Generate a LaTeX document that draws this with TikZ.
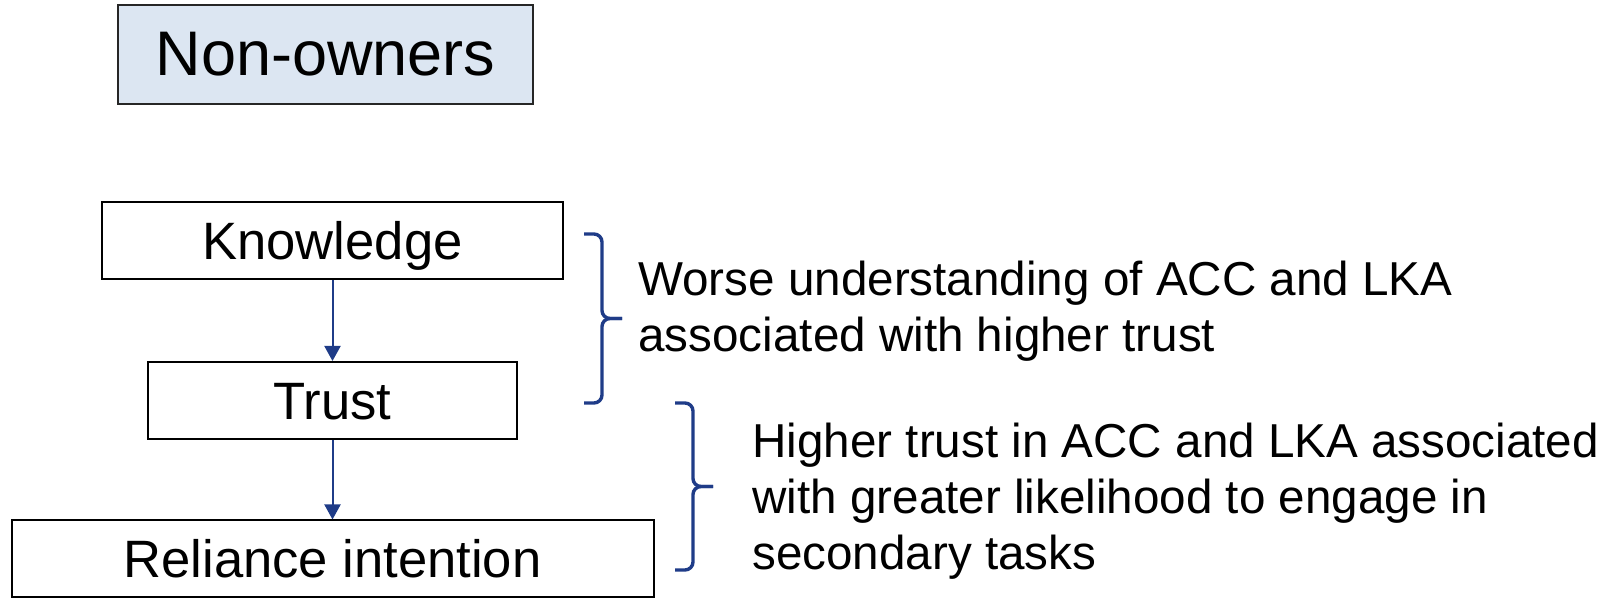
\documentclass[tikz,border=0pt]{standalone}
\usepackage{fontspec}
\setmainfont{Liberation Sans}
\usetikzlibrary{arrows.meta}
\definecolor{navy}{HTML}{1F3C88}
\definecolor{paleblue}{HTML}{DCE6F2}

\begin{document}
\begin{tikzpicture}[x=0.5pt, y=-0.5pt,
        stagebox/.style={draw, line width=1pt, inner sep=0pt, text height=19pt, text depth=0pt,
            minimum height=38.5pt, font=\fontsize{26.3}{31}\selectfont},
        note/.style={anchor=north west, inner sep=0pt, align=left, font=\fontsize{23.8}{28}\selectfont},
        flow/.style={->, >={Triangle[length=7.5pt,width=8pt]}, navy, line width=1pt},
        bracket/.style={draw=navy, line width=1.7pt, rounded corners=4pt}]
    \useasboundingbox (0,0) rectangle (1608,598);

    \node[draw=black!85, line width=1.2pt, fill=paleblue, inner sep=0pt, minimum width=207.5pt,
        minimum height=49.5pt, font=\fontsize{31.5}{37}\selectfont] (nonowners) at (325.5,54.5) {Non-owners};

    \node[stagebox, minimum width=230.5pt] (know) at (332.5,240.5) {Knowledge};
    \node[stagebox, minimum width=184.5pt] (trust) at (332.5,400.5) {Trust};
    \node[stagebox, minimum width=321pt] (reliance) at (332.5,559) {Reliance intention};

    \draw[flow] (know) -- (trust);
    \draw[flow] (trust) -- (reliance);

    % curly brackets
    \foreach \x/\top/\bot in {584/234/403, 675/403/570}{
        \draw[bracket] (\x,\top) -- (\x+18,\top) -- (\x+18,{(\top+\bot)/2}) -- (\x+38,{(\top+\bot)/2});
        \draw[bracket] (\x+38,{(\top+\bot)/2}) -- (\x+18,{(\top+\bot)/2}) -- (\x+18,\bot) -- (\x,\bot);
    }

    \node[note] (worse) at (638,261) {Worse understanding of ACC and LKA\\associated with higher trust};
    \node[note] (higher) at (752,423) {Higher trust in ACC and LKA associated\\with greater likelihood to engage in\\secondary tasks};
\end{tikzpicture}
\end{document}
